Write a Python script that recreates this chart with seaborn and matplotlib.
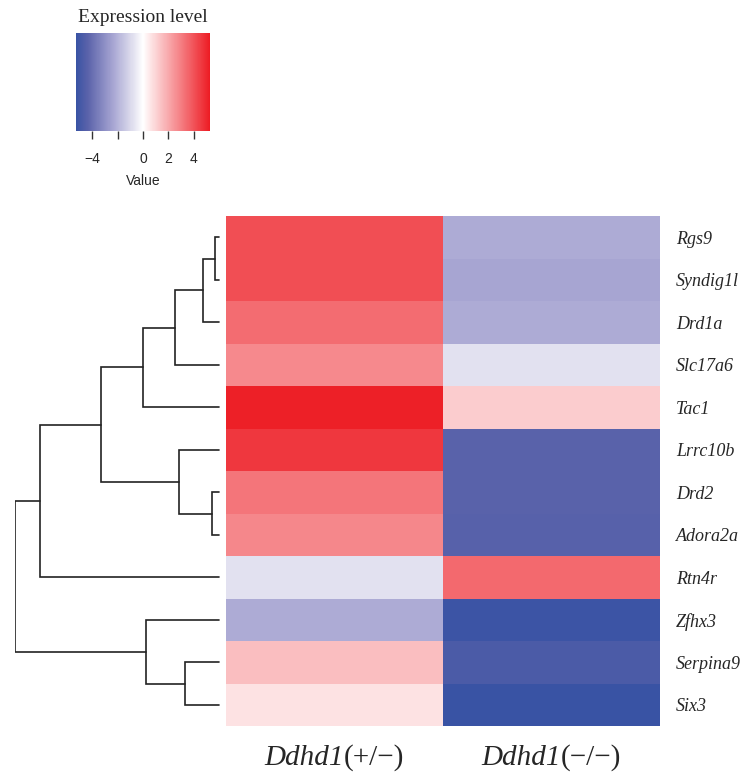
import numpy as np
import pandas as pd
import matplotlib
matplotlib.use("Agg")
import matplotlib.pyplot as plt
import seaborn as sns
from matplotlib.colors import LinearSegmentedColormap
from matplotlib.offsetbox import TextArea, HPacker, AnnotationBbox

genes = ["Rgs9", "Syndig1l", "Drd1a", "Slc17a6", "Tac1", "Lrrc10b",
         "Drd2", "Adora2a", "Rtn4r", "Zfhx3", "Serpina9", "Six3"]
het_vals = [4.1, 4.1, 3.4, 2.75, 5.2, 4.65, 3.2, 2.8, -0.75, -2.2, 1.5, 0.7]
ko_vals = [-2.2, -2.4, -2.2, -0.75, 1.2, -4.4, -4.4, -4.45, 3.5, -5.2, -4.8, -5.3]
col_gene = ["Ddhd1", "Ddhd1"]
col_geno = ["(+/−)", "(−/−)"]

# row dendrogram, leaves numbered 0..11 in display order: (left, right, height)
merges = [(0, 1, 0.4), (12, 2, 1.6), (13, 3, 4.4), (14, 4, 7.6),
          (6, 7, 0.7), (5, 16, 4.0), (15, 17, 11.8), (18, 8, 17.9),
          (10, 11, 3.4), (9, 20, 7.3), (19, 21, 20.4)]

cbar_ticks = [-4, -2, 0, 2, 4]
cbar_ticklabels = ["−4", "", "0", "2", "4"]
vmin, vmax = -5.3, 5.3

# colour key (value, rgb)
key_vals = [-5.3, -4.4, -2.3, -0.75, 0, 5.3]
key_cols = ["#3953A4", "#5A62AA", "#AAA8D4", "#E3E2F0", "#FFFFFF", "#ED1C24"]

df = pd.DataFrame({"het": het_vals, "ko": ko_vals}, index=genes)

sns.set_style("white")

cmap = LinearSegmentedColormap.from_list(
    "key", [((v - vmin) / (vmax - vmin), c) for v, c in zip(key_vals, key_cols)])

W, H = 747, 772
fig = plt.figure(figsize=(W / 100, H / 100), dpi=100)

def box(x0, y0, x1, y1):
    return [x0 / W, 1 - y1 / H, (x1 - x0) / W, (y1 - y0) / H]

ax = fig.add_axes(box(226, 216, 660, 726))
cax = fig.add_axes(box(76, 33, 210, 131))
dax = fig.add_axes(box(15, 216, 222, 726))

sns.heatmap(df, ax=ax, cmap=cmap, vmin=vmin, vmax=vmax, cbar_ax=cax,
            cbar_kws={"orientation": "horizontal"})

ax.yaxis.tick_right()
ax.set_yticklabels(genes, rotation=0, family="Liberation Serif",
                   style="italic", fontsize=13)
ax.tick_params(axis="y", length=0, pad=11.5)
ax.set_xticks([])
ax.set_xlabel("")
ax.set_ylabel("")

# column labels: italic gene name + upright genotype
for j, (g, s) in enumerate(zip(col_gene, col_geno)):
    parts = HPacker(children=[
        TextArea(g, textprops=dict(family="Liberation Serif", style="italic", size=21)),
        TextArea(s, textprops=dict(family="Liberation Serif", size=21))],
        sep=0, pad=0, align="baseline")
    ab = AnnotationBbox(parts, (j + 0.5, len(genes)), xybox=(0, -13),
                        boxcoords="offset points", box_alignment=(0.5, 1),
                        frameon=False, pad=0, annotation_clip=False)
    ax.add_artist(ab)

cbar = ax.collections[0].colorbar
cbar.outline.set_visible(False)
cbar.set_ticks(cbar_ticks)
cbar.set_ticklabels(cbar_ticklabels)
cax.tick_params(axis="x", direction="out", length=6, width=1, pad=9,
                labelsize=10, color="#333333")
cax.axhline(vmin, color="#333333", lw=1)
cax.set_xlabel("Value", family="Liberation Sans", fontsize=10, labelpad=6)
cax.set_title("Expression level", family="Liberation Serif", fontsize=14, pad=8)
for t in cax.get_xticklabels():
    t.set_family("Liberation Sans")

# dendrogram
pos = {i: i + 0.5 for i in range(len(genes))}
hgt = {i: 0.0 for i in range(len(genes))}
for k, (a, b, h) in enumerate(merges):
    node = len(genes) + k
    dax.plot([hgt[a], h, h, hgt[b]], [pos[a], pos[a], pos[b], pos[b]],
             color="#222222", lw=1.2, solid_joinstyle="miter")
    pos[node] = (pos[a] + pos[b]) / 2
    hgt[node] = h

dax.set_xlim(merges[-1][2], -0.35)
dax.set_ylim(len(genes), 0)
dax.axis("off")

fig.savefig("out.png", dpi=100)
